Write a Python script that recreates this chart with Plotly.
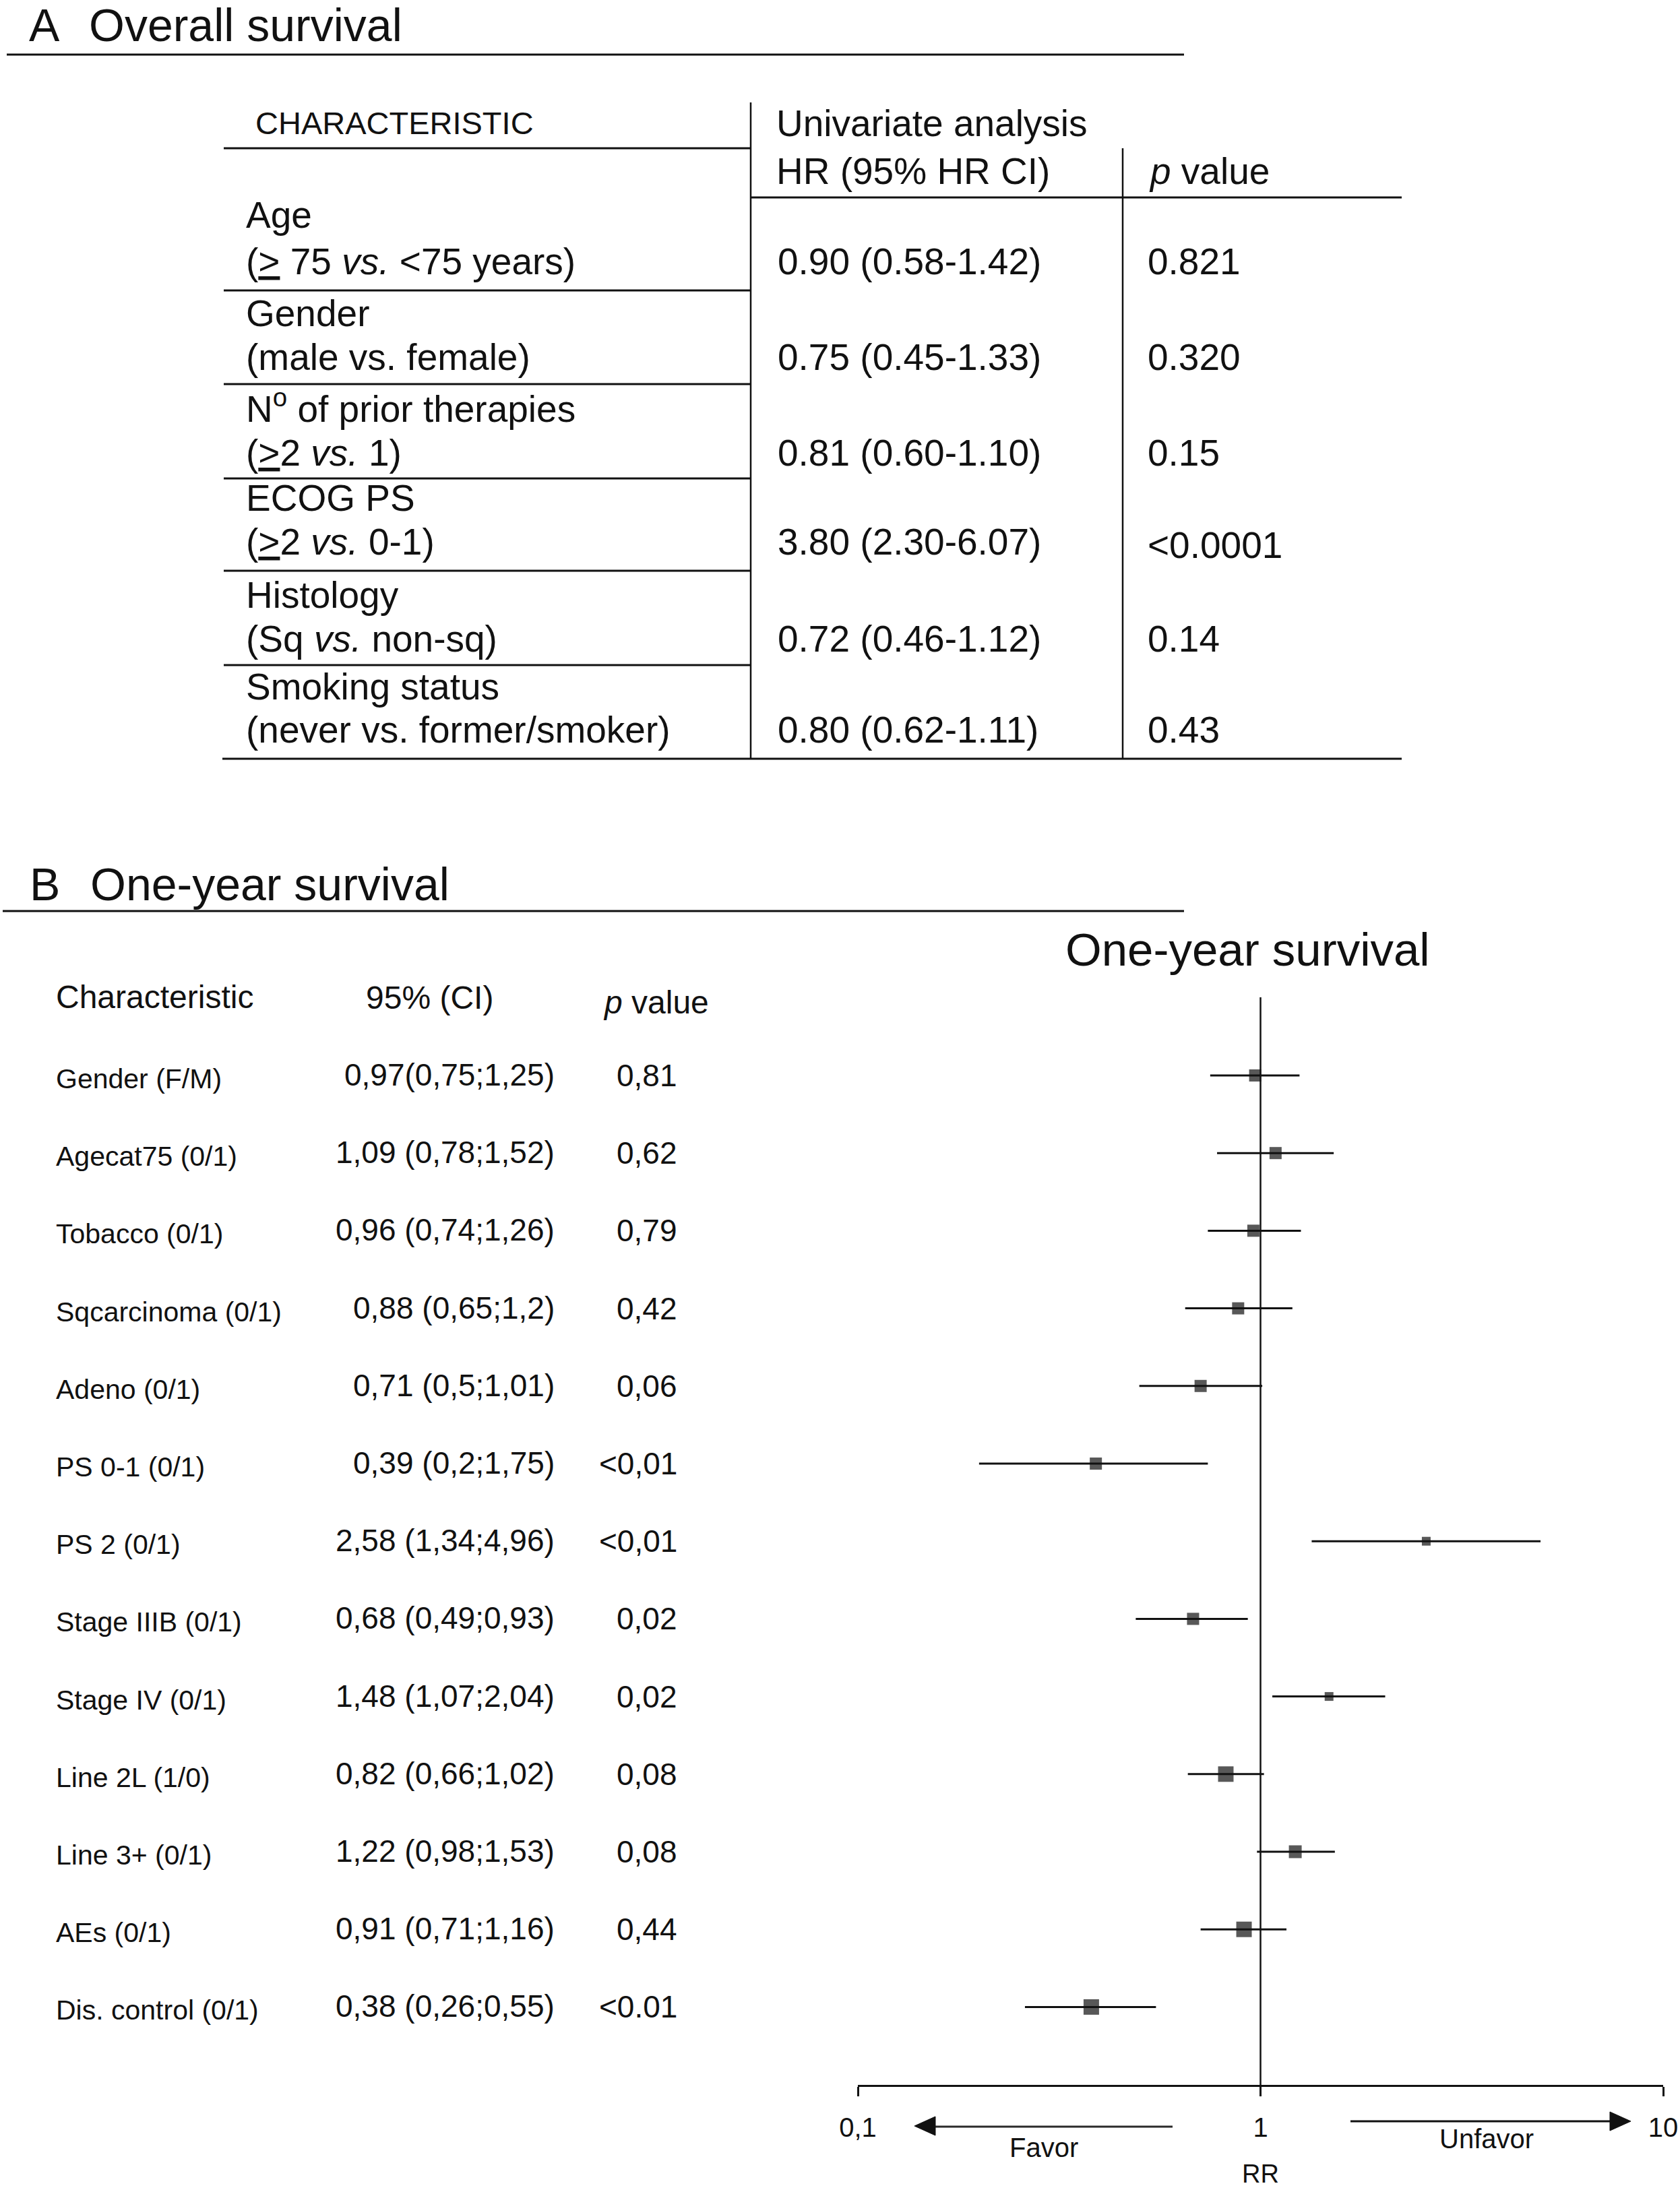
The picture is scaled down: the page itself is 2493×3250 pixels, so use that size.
import plotly.graph_objects as go

W, H = 2493, 3250
FONT = "Liberation Sans, Arial, Helvetica, sans-serif"
INK = "#111111"

# ---------------- Panel A data ----------------
a_char_name = ["Age", "Gender", "N<sup>o</sup> of prior therapies", "ECOG PS",
               "Histology", "Smoking status"]
a_char_detail = ["(<u>&gt;</u> 75 <i>vs.</i> &lt;75 years)", "(male vs. female)",
                 "(<u>&gt;</u>2 <i>vs.</i> 1)", "(<u>&gt;</u>2 <i>vs.</i> 0-1)",
                 "(Sq <i>vs.</i> non-sq)", "(never vs. former/smoker)"]
a_hr = ["0.90 (0.58-1.42)", "0.75 (0.45-1.33)", "0.81 (0.60-1.10)",
        "3.80 (2.30-6.07)", "0.72 (0.46-1.12)", "0.80 (0.62-1.11)"]
a_p = ["0.821", "0.320", "0.15", "&lt;0.0001", "0.14", "0.43"]

# ---------------- Panel B data ----------------
b_char = ["Gender (F/M)", "Agecat75 (0/1)", "Tobacco (0/1)", "Sqcarcinoma (0/1)",
          "Adeno (0/1)", "PS 0-1 (0/1)", "PS 2 (0/1)", "Stage IIIB (0/1)",
          "Stage IV (0/1)", "Line 2L (1/0)", "Line 3+ (0/1)", "AEs (0/1)",
          "Dis. control (0/1)"]
b_ci_text = ["0,97(0,75;1,25)", "1,09 (0,78;1,52)", "0,96 (0,74;1,26)",
             "0,88 (0,65;1,2)", "0,71 (0,5;1,01)", "0,39 (0,2;1,75)",
             "2,58 (1,34;4,96)", "0,68 (0,49;0,93)", "1,48 (1,07;2,04)",
             "0,82 (0,66;1,02)", "1,22 (0,98;1,53)", "0,91 (0,71;1,16)",
             "0,38 (0,26;0,55)"]
b_p_text = ["0,81", "0,62", "0,79", "0,42", "0,06", "&lt;0,01", "&lt;0,01",
            "0,02", "0,02", "0,08", "0,08", "0,44", "&lt;0.01"]
rr = [0.97, 1.09, 0.96, 0.88, 0.71, 0.39, 2.58, 0.68, 1.48, 0.82, 1.22, 0.91, 0.38]
rr_low = [0.75, 0.78, 0.74, 0.65, 0.50, 0.20, 1.34, 0.49, 1.07, 0.66, 0.98, 0.71, 0.26]
rr_high = [1.25, 1.52, 1.26, 1.20, 1.01, 0.74, 4.96, 0.93, 2.04, 1.02, 1.53, 1.16, 0.55]
weight_size = [18, 18, 18, 18, 18, 18, 13, 18, 13, 23, 19, 23, 23]
x_tickvals = [0.1, 1, 10]
x_ticktext = ["0,1", "1", "10"]

# ---------------- layout helpers (pixel -> paper) ----------------
def PX(x):
    return x / W


def PY(y):
    return 1 - y / H


annotations = []
shapes = []


def txt(x, y, s, size, anchor="left", yanchor="middle"):
    annotations.append(dict(x=PX(x), y=PY(y), xref="paper", yref="paper", text=s,
                            showarrow=False, xanchor=anchor, yanchor=yanchor,
                            font=dict(family=FONT, size=size, color=INK)))


def hline(x0, x1, y, w=3, color=INK):
    shapes.append(dict(type="line", xref="paper", yref="paper", x0=PX(x0), x1=PX(x1),
                       y0=PY(y), y1=PY(y), line=dict(color=color, width=w)))


def vline(x, y0, y1, w=2.5):
    shapes.append(dict(type="line", xref="paper", yref="paper", x0=PX(x), x1=PX(x),
                       y0=PY(y0), y1=PY(y1), line=dict(color=INK, width=w)))


def tri(pts):
    path = "M " + " L ".join(f"{PX(x):.6f},{PY(y):.6f}" for x, y in pts) + " Z"
    shapes.append(dict(type="path", xref="paper", yref="paper", path=path,
                       fillcolor=INK, line=dict(color=INK, width=1)))


# ---------------- Panel A ----------------
txt(41, 37, "A", 68)
txt(130, 37, "Overall survival", 68)
hline(10, 1757, 81, 3)

txt(377, 183, "CHARACTERISTIC", 47)
txt(1150, 183, "Univariate analysis", 55)
txt(1150, 254, "HR (95% HR CI)", 55)
txt(1703, 254, "<i>p</i> value", 55)

hline(332, 1114, 220)
hline(1114, 2080, 293)
vline(1114, 152, 1127)
vline(1666, 220, 1127)
a_seps = [431, 570, 710, 847, 987]
for ys in a_seps:
    hline(332, 1114, ys)
hline(330, 2080, 1126)

a_line1_y = [319, 465, 603, 739, 883, 1019]
a_line2_y = [388, 530, 672, 804, 948, 1083]
for i in range(len(a_char_name)):
    txt(363, a_line1_y[i], a_char_name[i], 55)
    txt(363, a_line2_y[i], a_char_detail[i], 55)
    txt(1152, a_line2_y[i], a_hr[i], 55)
    txt(1701, a_line2_y[i] + (5 if a_p[i].startswith("&lt;") else 0), a_p[i], 55)

# ---------------- Panel B ----------------
txt(42, 1312, "B", 68)
txt(132, 1312, "One-year survival", 68)
hline(4, 1757, 1352, 3)

txt(81, 1479, "Characteristic", 48)
txt(541, 1481, "95% (CI)", 48)
txt(893, 1487, "<i>p</i> value", 48)

rows = list(range(len(b_char)))
for i in rows:
    annotations.append(dict(x=PX(81), y=i, xref="paper", yref="y", text=b_char[i],
                            showarrow=False, xanchor="left", yanchor="middle", yshift=-5,
                            font=dict(family=FONT, size=41, color=INK)))
    annotations.append(dict(x=PX(825), y=i, xref="paper", yref="y", text=b_ci_text[i],
                            showarrow=False, xanchor="right", yanchor="middle", yshift=1,
                            font=dict(family=FONT, size=46, color=INK)))
    annotations.append(dict(x=PX(1007), y=i, xref="paper", yref="y", text=b_p_text[i],
                            showarrow=False, xanchor="right", yanchor="middle", yshift=0,
                            font=dict(family=FONT, size=46, color=INK)))

# Forest plot title
txt(1851, 1409, "One-year survival", 69, anchor="center")

# Favor / Unfavor arrows and labels
hline(1380, 1740, 3156, 3, "#2a2a2a")
tri([(1357, 3155), (1388, 3141), (1388, 3169)])
hline(2004, 2395, 3148, 3)
tri([(2420, 3148), (2389, 3134), (2389, 3162)])
txt(1549, 3187, "Favor", 40, anchor="center")
txt(2206, 3174, "Unfavor", 40, anchor="center")
txt(1870, 3226, "RR", 38, anchor="center")

# forest axes geometry (pixels)
row0_px, row_step = 1596, 115.2
ax_top_px, ax_bot_px = 1480, 3094
y_top = (ax_top_px - row0_px) / row_step
y_bot = (ax_bot_px - row0_px) / row_step

fig = go.Figure()
fig.add_trace(go.Scatter(x=[1, 1], y=[y_top, y_bot], mode="lines",
                         line=dict(color=INK, width=2.5), hoverinfo="skip",
                         showlegend=False))
fig.add_trace(go.Scatter(
    x=rr, y=rows, mode="markers",
    marker=dict(symbol="square", size=weight_size, color=INK, line=dict(width=0)),
    error_x=dict(type="data", symmetric=False,
                 array=[h - r for h, r in zip(rr_high, rr)],
                 arrayminus=[r - l for r, l in zip(rr, rr_low)],
                 thickness=3, width=0, color=INK),
    showlegend=False))

fig.update_layout(
    width=W, height=H,
    autosize=False,
    margin=dict(l=0, r=0, t=0, b=0, pad=0, autoexpand=False),
    paper_bgcolor="white", plot_bgcolor="white",
    showlegend=False,
    font=dict(family=FONT, color=INK),
    xaxis=dict(type="log", range=[-1, 1], domain=[PX(1273), PX(2468)],
               showline=True, linecolor=INK, linewidth=2.5, mirror=False,
               ticks="outside", ticklen=14, tickwidth=2.5, tickcolor=INK,
               tickvals=x_tickvals, ticktext=x_ticktext,
               tickfont=dict(family=FONT, size=40, color=INK),
               ticklabelstandoff=12, automargin=False,
               showgrid=False, zeroline=False, fixedrange=True),
    yaxis=dict(domain=[PY(ax_bot_px), PY(ax_top_px)], range=[y_bot, y_top],
               visible=False, showgrid=False, zeroline=False, fixedrange=True,
               automargin=False),
    annotations=annotations,
    shapes=shapes,
)

fig.write_html(
    "out.html",
    config={"displayModeBar": False, "responsive": False},
    post_script="document.body.style.margin='0';document.body.style.overflow='hidden';",
)
